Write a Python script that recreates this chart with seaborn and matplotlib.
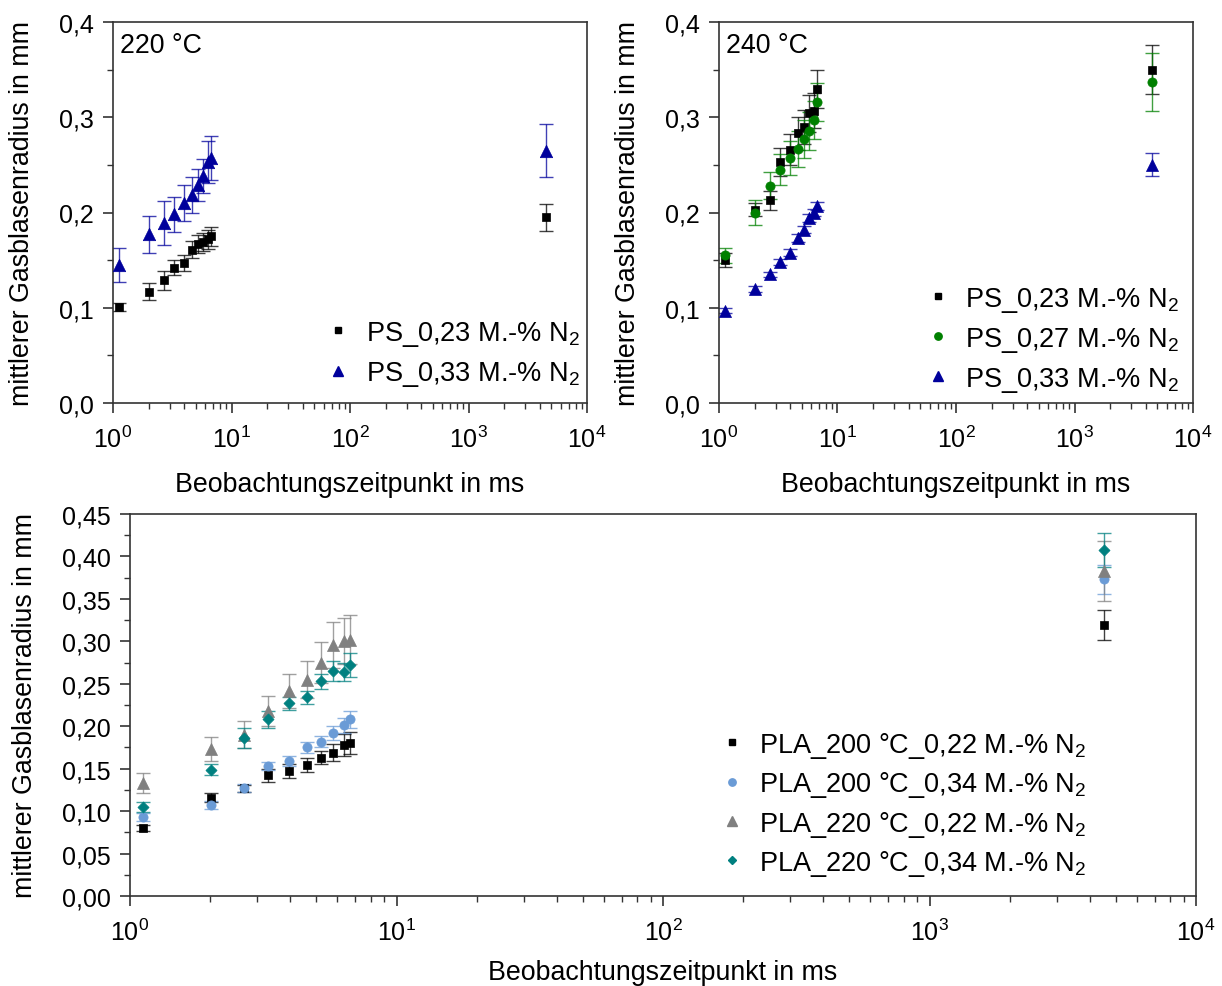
import matplotlib
matplotlib.use("Agg")
import matplotlib.pyplot as plt
import numpy as np
import pandas as pd
import seaborn as sns
from matplotlib.ticker import FuncFormatter, MultipleLocator, LogLocator, NullFormatter
from matplotlib.lines import Line2D

# Observation times in ms
t_ms = [1.12, 2.02, 2.67, 3.3, 3.95, 4.6, 5.2, 5.8, 6.35, 6.7, 4500]

# PS at 220 °C
ps220_n023 = [0.101, 0.117, 0.129, 0.142, 0.147, 0.161, 0.167, 0.169, 0.172, 0.175, 0.195]
ps220_n023_err = [0.004, 0.009, 0.010, 0.008, 0.008, 0.009, 0.009, 0.009, 0.010, 0.010, 0.014]
ps220_n033 = [0.145, 0.177, 0.189, 0.198, 0.210, 0.218, 0.229, 0.238, 0.253, 0.257, 0.265]
ps220_n033_err = [0.018, 0.019, 0.023, 0.018, 0.019, 0.019, 0.017, 0.018, 0.022, 0.023, 0.028]

# PS at 240 °C
ps240_n023 = [0.150, 0.203, 0.213, 0.253, 0.266, 0.283, 0.290, 0.304, 0.307, 0.330, 0.350]
ps240_n023_err = [0.007, 0.007, 0.010, 0.015, 0.016, 0.017, 0.018, 0.019, 0.018, 0.020, 0.026]
ps240_n027 = [0.155, 0.200, 0.228, 0.245, 0.257, 0.267, 0.277, 0.286, 0.297, 0.316, 0.337]
ps240_n027_err = [0.008, 0.013, 0.014, 0.016, 0.018, 0.019, 0.020, 0.020, 0.020, 0.020, 0.030]
ps240_n033 = [0.097, 0.120, 0.135, 0.148, 0.158, 0.173, 0.182, 0.194, 0.200, 0.207, 0.250]
ps240_n033_err = [0.003, 0.003, 0.003, 0.003, 0.004, 0.004, 0.004, 0.004, 0.004, 0.004, 0.012]

# PLA
pla200_n022 = [0.080, 0.116, 0.127, 0.142, 0.147, 0.154, 0.163, 0.169, 0.178, 0.180, 0.319]
pla200_n022_err = [0.004, 0.005, 0.004, 0.008, 0.008, 0.008, 0.008, 0.010, 0.013, 0.013, 0.018]
pla200_n034 = [0.093, 0.107, 0.127, 0.153, 0.159, 0.175, 0.182, 0.192, 0.201, 0.208, 0.373]
pla200_n034_err = [0.005, 0.005, 0.005, 0.005, 0.006, 0.006, 0.007, 0.008, 0.009, 0.010, 0.017]
pla220_n022 = [0.133, 0.173, 0.190, 0.218, 0.242, 0.255, 0.275, 0.296, 0.300, 0.302, 0.383]
pla220_n022_err = [0.012, 0.014, 0.016, 0.018, 0.020, 0.022, 0.024, 0.027, 0.027, 0.029, 0.035]
pla220_n034 = [0.1045, 0.149, 0.186, 0.208, 0.227, 0.234, 0.253, 0.265, 0.264, 0.272, 0.408]
pla220_n034_err = [0.006, 0.007, 0.012, 0.010, 0.008, 0.008, 0.009, 0.012, 0.011, 0.014, 0.020]

N2 = r" M.-% N$_2$"

sns.set_theme(style="white")
plt.rcParams["font.family"] = ["Liberation Sans", "DejaVu Sans"]
plt.rcParams["mathtext.default"] = "regular"
plt.rcParams["mathtext.fontset"] = "custom"
plt.rcParams["mathtext.rm"] = "Liberation Sans"
plt.rcParams["mathtext.it"] = "Liberation Sans:italic"
plt.rcParams["text.color"] = "black"
plt.rcParams["axes.labelcolor"] = "black"
plt.rcParams["xtick.labelcolor"] = "black"
plt.rcParams["ytick.labelcolor"] = "black"

SPINE = "#333333"
TICK_FS = 18
LABEL_FS = 19.3
LEG_FS = 19.5

fig = plt.figure(figsize=(12.22, 9.87), dpi=100)
W, H = 1222, 987


def add_axes(left, right, top, bottom):
    return fig.add_axes([left / W, 1 - bottom / H, (right - left) / W, (bottom - top) / H])


def style_axes(ax, ymax, ymajor, yminor, ydec, xlabelpad=14):
    ax.set_xscale("log")
    ax.set_xlim(1, 1e4)
    ax.set_ylim(0, ymax)
    ax.xaxis.set_major_locator(LogLocator(base=10, numticks=10))
    ax.xaxis.set_minor_locator(LogLocator(base=10, subs=np.arange(2, 10), numticks=20))
    ax.xaxis.set_minor_formatter(NullFormatter())
    ax.yaxis.set_major_locator(MultipleLocator(ymajor))
    ax.yaxis.set_minor_locator(MultipleLocator(yminor))
    ax.yaxis.set_major_formatter(FuncFormatter(lambda v, p: f"{v:.{ydec}f}".replace(".", ",")))
    for s in ax.spines.values():
        s.set_visible(True)
        s.set_color(SPINE)
        s.set_linewidth(1.2)
    ax.tick_params(axis="both", which="both", direction="out", color=SPINE,
                   bottom=True, left=True, top=False, right=False)
    ax.tick_params(axis="both", which="major", length=7, width=1.2, labelsize=TICK_FS)
    ax.tick_params(axis="x", which="major", pad=9)
    ax.tick_params(axis="y", which="major", pad=7)
    ax.tick_params(axis="both", which="minor", length=4, width=1.0)
    ax.set_xlabel("Beobachtungszeitpunkt in ms", fontsize=LABEL_FS, labelpad=xlabelpad)
    ax.set_ylabel("mittlerer Gasblasenradius in mm", fontsize=LABEL_FS, labelpad=17)
    ax.grid(False)


def draw_series(ax, y, err, color, marker, size, label):
    df = pd.DataFrame({"t": t_ms, "r": y, "e": err})
    ax.errorbar(df["t"], df["r"], yerr=df["e"], fmt="none", ecolor=color, alpha=0.75,
                elinewidth=1.0, capsize=5, capthick=1.0, zorder=2)
    sns.scatterplot(data=df, x="t", y="r", ax=ax, color=color, marker=marker, s=size,
                    edgecolor=color, linewidth=0.5, legend=False, zorder=3)
    return Line2D([], [], linestyle="none", marker=marker, color=color,
                  markersize=np.sqrt(size) * 0.8, label=label)


def add_legend(ax, handles, x, y, spacing):
    ax.legend(handles=handles, loc="upper left", bbox_to_anchor=(x, y), frameon=False,
              fontsize=LEG_FS, handlelength=1.0, handletextpad=0.5, labelspacing=spacing,
              borderpad=0, borderaxespad=0)


# 220 °C panel
ax1 = add_axes(113, 587, 23, 404)
h = [
    draw_series(ax1, ps220_n023, ps220_n023_err, "#000000", "s", 38, "PS_0,23" + N2),
    draw_series(ax1, ps220_n033, ps220_n033_err, "#00009C", "^", 80, "PS_0,33" + N2),
]
style_axes(ax1, 0.4, 0.1, 0.05, 1)
ax1.text(0.015, 0.975, "220 °C", transform=ax1.transAxes, ha="left", va="top", fontsize=LABEL_FS)
add_legend(ax1, h, 0.447, 0.221, 0.43)

# 240 °C panel
ax2 = add_axes(719, 1193, 23, 404)
h = [
    draw_series(ax2, ps240_n023, ps240_n023_err, "#000000", "s", 34, "PS_0,23" + N2),
    draw_series(ax2, ps240_n027, ps240_n027_err, "#008000", "o", 44, "PS_0,27" + N2),
    draw_series(ax2, ps240_n033, ps240_n033_err, "#00009C", "^", 75, "PS_0,33" + N2),
]
style_axes(ax2, 0.4, 0.1, 0.05, 1)
ax2.text(0.015, 0.975, "240 °C", transform=ax2.transAxes, ha="left", va="top", fontsize=LABEL_FS)
add_legend(ax2, h, 0.4325, 0.31, 0.40)

# PLA panel
ax3 = add_axes(130, 1196, 515, 897)
h = [
    draw_series(ax3, pla200_n022, pla200_n022_err, "#000000", "s", 34, "PLA_200 °C_0,22" + N2),
    draw_series(ax3, pla200_n034, pla200_n034_err, "#6A9BD6", "o", 44, "PLA_200 °C_0,34" + N2),
    draw_series(ax3, pla220_n022, pla220_n022_err, "#808080", "^", 75, "PLA_220 °C_0,22" + N2),
    draw_series(ax3, pla220_n034, pla220_n034_err, "#008080", "D", 32, "PLA_220 °C_0,34" + N2),
]
style_axes(ax3, 0.45, 0.05, 0.025, 2, xlabelpad=10)
add_legend(ax3, h, 0.5516, 0.435, 0.345)

fig.savefig("out.png", dpi=100)
